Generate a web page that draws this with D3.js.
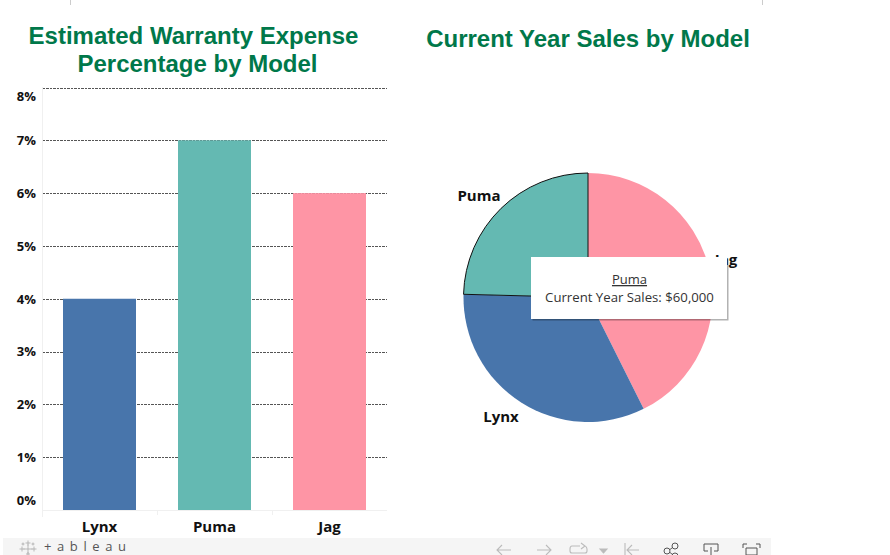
<!DOCTYPE html>
<html><head><meta charset="utf-8">
<script src="https://cdn.jsdelivr.net/npm/d3@7"></script>
<style>html,body{margin:0;padding:0;background:#fff;overflow:hidden}svg{display:block}</style>
</head><body><svg id="c" width="890" height="555"></svg>
<script>
const barModels = ["Lynx","Puma","Jag"];
const warrantyPct = [4,7,6];
const pctTicks = [0,1,2,3,4,5,6,7,8];
const pieModels = ["Jag","Lynx","Puma"];
const pieSales = [104000,80000,60000];
const modelColors = {Lynx:"#4875ab",Puma:"#64b9b2",Jag:"#fe95a5"};
const titleLeft = ["Estimated Warranty Expense","Percentage by Model"];
const titleRight = "Current Year Sales by Model";
const tipTitle = "Puma";
const tipBody = "Current Year Sales: $60,000";

const svg = d3.select("#c");
const labelFont = "'Open Sans',sans-serif";
const titleFont = "'Liberation Sans',Arial,sans-serif";
const green = "#00784a";

svg.selectAll("line.top").data([70,762]).join("line")
  .attr("x1",d=>d+.5).attr("x2",d=>d+.5).attr("y1",0).attr("y2",5).attr("stroke","#ccc");

svg.append("text").attr("text-anchor","middle").attr("font-family",titleFont).attr("font-weight",700)
  .attr("font-size",24).attr("fill",green)
  .selectAll("tspan").data(titleLeft).join("tspan").attr("x",(d,i)=>i?197.5:193.5).attr("y",(d,i)=>44+i*28).text(d=>d);
svg.append("text").attr("text-anchor","middle").attr("font-family",titleFont).attr("font-weight",700)
  .attr("font-size",24).attr("fill",green).attr("x",588).attr("y",47).text(titleRight);

// bars
const x = d3.scaleBand().domain(barModels).range([42.5,387.5]).paddingInner(0).paddingOuter(0);
const y = d3.scaleLinear().domain([0,8]).range([510,87.5]);
const barW = 73;

// axis frame
svg.append("line").attr("x1",42.5).attr("x2",42.5).attr("y1",87).attr("y2",517).attr("stroke","#f0f0f0");
svg.append("line").attr("x1",42).attr("x2",387).attr("y1",510.5).attr("y2",510.5).attr("stroke","#f0f0f0");
[157.5,272.5].forEach(v=>svg.append("line").attr("x1",v).attr("x2",v).attr("y1",510).attr("y2",515).attr("stroke","#f0f0f0"));

const grid = d3.axisLeft(y).tickValues(pctTicks.filter(d=>d>0)).tickSize(-344).tickFormat("");
const gg = svg.append("g").attr("transform","translate(42.5,0)").call(grid);
gg.select(".domain").remove();
gg.selectAll("line").attr("stroke","#555").attr("stroke-width",1).attr("stroke-dasharray","2.5,1").attr("shape-rendering","crispEdges");

svg.selectAll("rect.bar").data(barModels).join("rect").attr("class","bar")
  .attr("x",d=>x(d)+(x.bandwidth()-barW)/2-.5).attr("width",barW)
  .attr("y",(d,i)=>y(warrantyPct[i])).attr("height",(d,i)=>y(0)-y(warrantyPct[i]))
  .attr("fill",d=>modelColors[d]);

// tick labels: the end labels are nudged inside the plot as Tableau does
svg.selectAll("text.yl").data(pctTicks).join("text").attr("class","yl")
  .attr("x",36).attr("text-anchor","end").attr("font-family",labelFont).attr("font-weight",700).attr("font-size",13).attr("fill","#111")
  .attr("y",d=>y(d)+(d===8?13:d===0?-5:d===3?4:5)).text(d=>d+"%");
svg.selectAll("text.xl").data(barModels).join("text").attr("class","xl")
  .attr("x",d=>x(d)+x.bandwidth()/2-.5).attr("y",532).attr("text-anchor","middle")
  .attr("font-family",labelFont).attr("font-weight",700).attr("font-size",15).attr("fill","#111").text(d=>d);

// pie
const pie = d3.pie().sort(null).value(d=>d)(pieSales);
const arc = d3.arc().innerRadius(0).outerRadius(124.5);
const pg = svg.append("g").attr("transform","translate(588,297.5)");
pg.selectAll("path").data(pie).join("path").attr("d",arc)
  .attr("fill",(d,i)=>modelColors[pieModels[i]])
  .attr("stroke",(d,i)=>pieModels[i]==="Puma"?"#111":"none").attr("stroke-width",1);
pg.selectAll("path").filter((d,i)=>pieModels[i]==="Puma").raise();

const pieLabelAt = {Puma:[479,201],Jag:[726,265],Lynx:[501,422]};
svg.selectAll("text.pl").data(pieModels).join("text").attr("class","pl")
  .attr("x",d=>pieLabelAt[d][0]).attr("y",d=>pieLabelAt[d][1]).attr("text-anchor","middle")
  .attr("font-family",labelFont).attr("font-weight",700).attr("font-size",15).attr("fill","#111").text(d=>d);

// tooltip
const defs = svg.append("defs");
const f = defs.append("filter").attr("id","sh").attr("x","-5%").attr("y","-5%").attr("width","110%").attr("height","115%");
f.append("feDropShadow").attr("dx",1.5).attr("dy",1.5).attr("stdDeviation",.6).attr("flood-color","#000").attr("flood-opacity",.3);
svg.append("rect").attr("x",531).attr("y",257).attr("width",196).attr("height",62).attr("fill","#fff").attr("filter","url(#sh)");
svg.append("text").attr("x",629.5).attr("y",284).attr("text-anchor","middle").attr("font-family",labelFont)
  .attr("font-size",13).attr("fill","#333").attr("text-decoration","underline").text(tipTitle);
svg.append("text").attr("x",629.5).attr("y",302).attr("text-anchor","middle").attr("font-family",labelFont)
  .attr("font-size",13.2).attr("fill","#333").text(tipBody);

// toolbar
svg.append("rect").attr("x",3).attr("y",538).attr("width",768).attr("height",17).attr("fill","#f5f5f5");
const logo = svg.append("g").attr("stroke","#aaa").attr("stroke-width",.8).attr("fill","none");
[[28,549,4.5],[22,549,2.5],[34,549,2.5],[28,543,2.5],[28,554,2],[23,544,1.5],[33,544,1.5]].forEach(([a,b,s])=>{
  logo.append("path").attr("d",`M${a-s},${b}H${a+s}M${a},${b-s}V${b+s}`);
});
svg.append("text").attr("x",44).attr("y",551).attr("font-family",labelFont).attr("font-size",13)
  .attr("letter-spacing",5.6).attr("fill","#555").text("+ableau");
const ic = svg.append("g").attr("fill","none").attr("stroke","#bbb").attr("stroke-width",1.1);
ic.append("path").attr("d","M511,550H497M502,545L497,550L502,555");
ic.append("path").attr("d","M537,550H551M546,545L551,550L546,555");
ic.append("path").attr("d","M580,546H572Q570,546 570,549V551Q570,553 572,553H585Q587,553 587,551V549Q587,547 585,546M581,543L585,546L581,549");
ic.append("path").attr("d","M600,549H607L603.5,553Z").attr("fill","#bbb");
ic.append("path").attr("d","M625,543V555M639,550H627M632,545L627,550L632,555");
const ic2 = svg.append("g").attr("fill","none").attr("stroke","#555").attr("stroke-width",1);
ic2.append("circle").attr("cx",675).attr("cy",546).attr("r",3);
ic2.append("circle").attr("cx",667).attr("cy",551).attr("r",3);
ic2.append("circle").attr("cx",675).attr("cy",556).attr("r",3);
ic2.append("path").attr("d","M670,549.5L672.5,547.5M670,552.5L672.5,554.5");
ic2.append("path").attr("d","M708,551H704V544H718V551H714M711,547V555");
ic2.append("path").attr("d","M743,548V544H747M756,544H760V548M746,548H757V555H746Z");
</script></body></html>
